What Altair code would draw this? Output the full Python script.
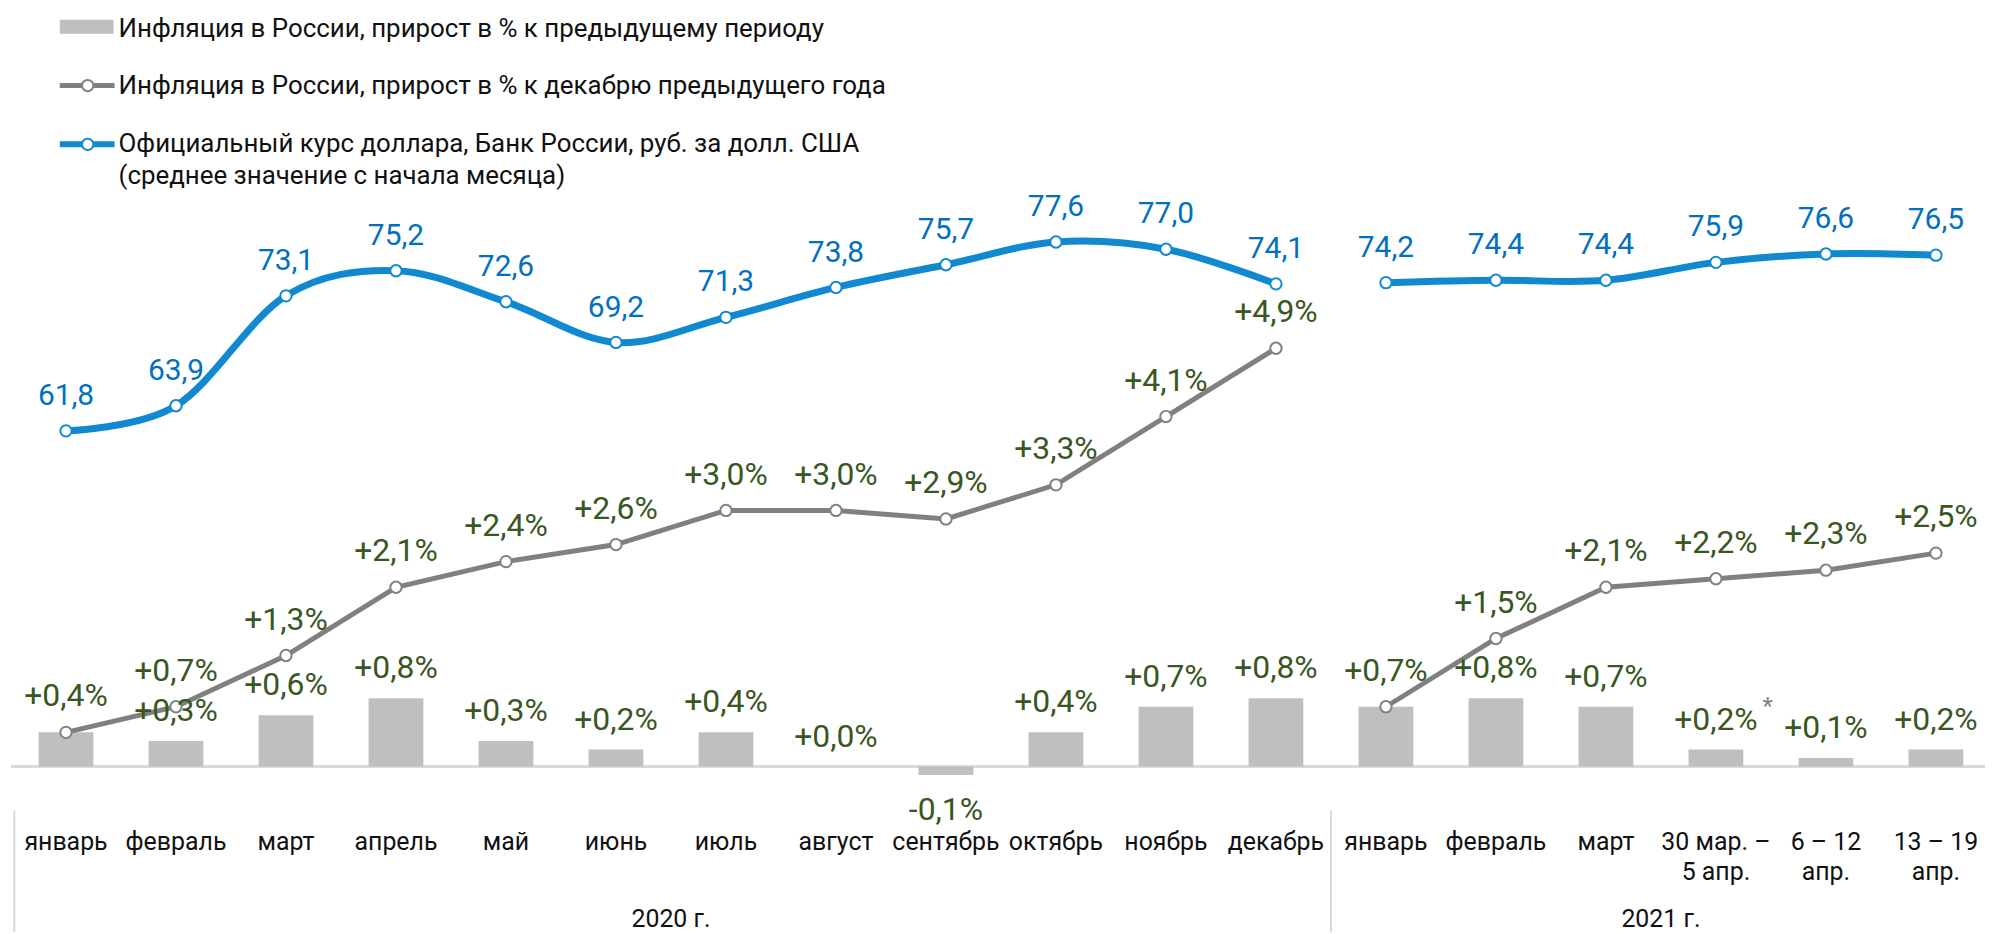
import altair as alt
import pandas as pd

# ---------------- data ----------------
categories = ["январь", "февраль", "март", "апрель", "май", "июнь", "июль", "август",
              "сентябрь", "октябрь", "ноябрь", "декабрь",
              "январь", "февраль", "март", "30 мар. –\n5 апр.", "6 – 12\nапр.", "13 – 19\nапр."]
year_of = ["2020"] * 12 + ["2021"] * 6
mom = [0.4, 0.3, 0.6, 0.8, 0.3, 0.2, 0.4, 0.0, -0.1, 0.4, 0.7, 0.8,
       0.7, 0.8, 0.7, 0.2, 0.1, 0.2]
ytd = [0.4, 0.7, 1.3, 2.1, 2.4, 2.6, 3.0, 3.0, 2.9, 3.3, 4.1, 4.9,
       0.7, 1.5, 2.1, 2.2, 2.3, 2.5]
usd = [61.8, 63.9, 73.1, 75.2, 72.6, 69.2, 71.3, 73.8, 75.7, 77.6, 77.0, 74.1,
       74.2, 74.4, 74.4, 75.9, 76.6, 76.5]
year_labels = ["2020 г.", "2021 г."]
legend_texts = [
    "Инфляция в России, прирост в % к предыдущему периоду",
    "Инфляция в России, прирост в % к декабрю предыдущего года",
    "Официальный курс доллара, Банк России, руб. за долл. США",
    "(среднее значение с начала месяца)",
]

# ---------------- styles ----------------
FONT = "Roboto"
C_BAR = "#BFBFBF"
C_GREY = "#808080"
C_BLUE = "#1089D0"
C_BLUE_TXT = "#0070C0"
C_GREEN = "#385723"
C_TXT = "#111111"
C_AXIS = "#D9D9D9"

W, H = 1985, 926
step = 111.0
XLO = -53.5 / step
XHI = XLO + W / step

xscale = alt.Scale(domain=[XLO, XHI], nice=False, zero=False)
pscale = alt.Scale(domain=[-1.9405, 8.8647], nice=False, zero=False)
uscale = alt.Scale(domain=[19.86, 97.025], nice=False, zero=False)


def fmt_pct(v):
    return ("%+.1f%%" % v).replace(".", ",")


df = pd.DataFrame({
    "i": list(range(len(categories))),
    "cat": categories,
    "yr": year_of,
    "mom": mom,
    "ytd": ytd,
    "usd": usd,
})
df["mom_lbl"] = [fmt_pct(v) for v in mom]
df["ytd_lbl"] = [fmt_pct(v) for v in ytd]
df["usd_lbl"] = [("%.1f" % v).replace(".", ",") for v in usd]

X = alt.X("i:Q", scale=xscale, axis=None)
base = alt.Chart(df)

# baseline (zero line)
zero_df = pd.DataFrame({"a": [-0.5], "b": [17.5], "z": [0.0]})
zero_line = alt.Chart(zero_df).mark_rule(color=C_AXIS, strokeWidth=3).encode(
    x=alt.X("a:Q", scale=xscale, axis=None), x2="b:Q",
    y=alt.Y("z:Q", scale=pscale, axis=None))

bars = base.mark_bar(size=55, color=C_BAR).encode(
    x=X, y=alt.Y("mom:Q", scale=pscale, axis=None))

grey_line = base.mark_line(color=C_GREY, strokeWidth=5).encode(
    x=X, y=alt.Y("ytd:Q", scale=pscale, axis=None), detail="yr:N")
grey_pts = base.mark_point(shape="circle", filled=True, fill="white", stroke=C_GREY,
                           strokeWidth=2, size=130, opacity=1).encode(
    x=X, y=alt.Y("ytd:Q", scale=pscale, axis=None))

blue_line = base.mark_line(color=C_BLUE, strokeWidth=7, interpolate="cardinal").encode(
    x=X, y=alt.Y("usd:Q", scale=uscale, axis=None), detail="yr:N")
blue_pts = base.mark_point(shape="circle", filled=True, fill="white", stroke=C_BLUE,
                           strokeWidth=2, size=130, opacity=1).encode(
    x=X, y=alt.Y("usd:Q", scale=uscale, axis=None))

# bar labels (where the bar label coincides with the cumulative one, only one is drawn)
bar_lbl_pos = base.transform_filter("datum.mom >= 0 && datum.mom != datum.ytd").mark_text(
    font=FONT, fontSize=32, color=C_GREEN, baseline="alphabetic", dy=-20).encode(
    x=X, y=alt.Y("mom:Q", scale=pscale, axis=None), text="mom_lbl:N")
bar_lbl_neg = base.transform_filter("datum.mom < 0").mark_text(
    font=FONT, fontSize=32, color=C_GREEN, baseline="top", dy=20).encode(
    x=X, y=alt.Y("mom:Q", scale=pscale, axis=None), text="mom_lbl:N")
star = base.transform_filter("datum.i == 15").mark_text(
    font=FONT, fontSize=24, color=C_GREY, baseline="alphabetic", dx=52, dy=-36).encode(
    x=X, y=alt.Y("mom:Q", scale=pscale, axis=None), text=alt.value("*"))

ytd_lbl = base.mark_text(font=FONT, fontSize=32, color=C_GREEN,
                         baseline="alphabetic", dy=-26).encode(
    x=X, y=alt.Y("ytd:Q", scale=pscale, axis=None), text="ytd_lbl:N")
usd_lbl = base.mark_text(font=FONT, fontSize=30, color=C_BLUE_TXT,
                         baseline="alphabetic", dy=-26).encode(
    x=X, y=alt.Y("usd:Q", scale=uscale, axis=None), text="usd_lbl:N")

cat_lbl = base.mark_text(font=FONT, fontSize=25, color=C_TXT, baseline="top",
                         lineBreak="\n", lineHeight=30).encode(
    x=X, y=alt.value(824), text="cat:N")

# year group labels and separators
yr_df = pd.DataFrame({"c": [5.5, 14.5], "t": year_labels})
yr_lbl = alt.Chart(yr_df).mark_text(font=FONT, fontSize=25, color=C_TXT,
                                    baseline="alphabetic").encode(
    x=alt.X("c:Q", scale=xscale, axis=None), y=alt.value(921), text="t:N")
sep_df = pd.DataFrame({"s": [-0.47, 11.5]})
seps = alt.Chart(sep_df).mark_rule(color=C_AXIS, strokeWidth=2).encode(
    x=alt.X("s:Q", scale=xscale, axis=None), y=alt.value(804), y2=alt.value(H))

# manual legend
one = pd.DataFrame({"k": [0]})
leg_bar = alt.Chart(one).mark_rect(color=C_BAR).encode(
    x=alt.value(52), x2=alt.value(106), y=alt.value(10), y2=alt.value(24))
leg_grey = alt.Chart(one).mark_rule(color=C_GREY, strokeWidth=5).encode(
    x=alt.value(52), x2=alt.value(107), y=alt.value(76))
leg_grey_pt = alt.Chart(one).mark_point(shape="circle", filled=True, fill="white",
                                        stroke=C_GREY, strokeWidth=2, size=130,
                                        opacity=1).encode(
    x=alt.value(80), y=alt.value(76))
leg_blue = alt.Chart(one).mark_rule(color=C_BLUE, strokeWidth=6).encode(
    x=alt.value(52), x2=alt.value(107), y=alt.value(135))
leg_blue_pt = alt.Chart(one).mark_point(shape="circle", filled=True, fill="white",
                                        stroke=C_BLUE, strokeWidth=2, size=130,
                                        opacity=1).encode(
    x=alt.value(80), y=alt.value(135))
leg_y = [19, 76, 135, 167]
leg_txt = [
    alt.Chart(one).mark_text(font=FONT, fontSize=26, color=C_TXT, align="left",
                             baseline="middle").encode(
        x=alt.value(111), y=alt.value(yy), text=alt.value(t))
    for t, yy in zip(legend_texts, leg_y)
]

chart = alt.layer(
    zero_line, bars, grey_line, grey_pts, blue_line, blue_pts,
    bar_lbl_pos, bar_lbl_neg, star, ytd_lbl, usd_lbl, cat_lbl, yr_lbl, seps,
    leg_bar, leg_grey, leg_grey_pt, leg_blue, leg_blue_pt, *leg_txt
).resolve_scale(y="independent").properties(
    width=W, height=H, padding=0, autosize=alt.AutoSizeParams(type="none")
).configure_view(stroke=None)

chart.save("out.html", embed_options={"renderer": "svg", "actions": False})
